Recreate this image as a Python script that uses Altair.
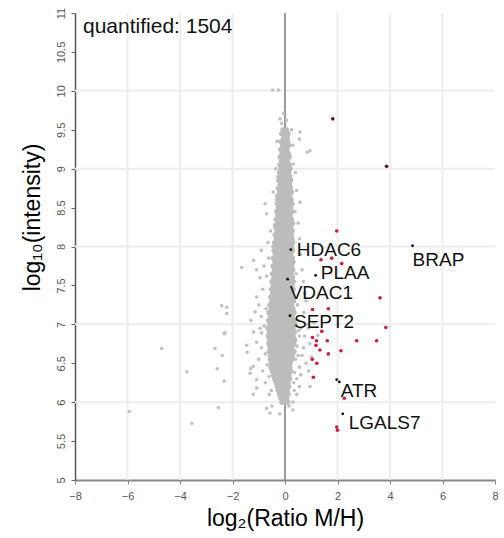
import altair as alt
import pandas as pd

# ---------------- data ----------------
# dense grey core, one row per intensity level: (log10 intensity, [log2 ratios])
core_rows = [
    (9.50, [-0.08, 0.06]),
    (9.45, [-0.13, 0.01, 0.12]),
    (9.40, [-0.05, 0.09]),
    (9.35, [-0.15, -0.02, 0.11]),
    (9.30, [-0.09, 0.04, 0.15]),
    (9.25, [-0.17, -0.04, 0.08]),
    (9.20, [-0.12, 0.01, 0.13]),
    (9.15, [-0.19, -0.07, 0.05, 0.16]),
    (9.10, [-0.14, -0.02, 0.10]),
    (9.05, [-0.20, -0.08, 0.04, 0.17]),
    (9.00, [-0.16, -0.03, 0.09, 0.20]),
    (8.95, [-0.22, -0.10, 0.02, 0.14]),
    (8.90, [-0.17, -0.05, 0.07, 0.19]),
    (8.85, [-0.24, -0.12, 0.00, 0.12, 0.22]),
    (8.80, [-0.19, -0.07, 0.05, 0.17]),
    (8.75, [-0.26, -0.14, -0.02, 0.10, 0.21]),
    (8.70, [-0.21, -0.09, 0.03, 0.15, 0.25]),
    (8.65, [-0.28, -0.16, -0.04, 0.08, 0.19]),
    (8.60, [-0.23, -0.11, 0.01, 0.13, 0.24]),
    (8.55, [-0.30, -0.18, -0.06, 0.06, 0.18, 0.27]),
    (8.50, [-0.25, -0.13, -0.01, 0.11, 0.22]),
    (8.45, [-0.32, -0.20, -0.08, 0.04, 0.16, 0.26]),
    (8.40, [-0.27, -0.15, -0.03, 0.09, 0.20]),
    (8.35, [-0.34, -0.22, -0.10, 0.02, 0.14, 0.25]),
    (8.30, [-0.29, -0.17, -0.05, 0.07, 0.19, 0.29]),
    (8.25, [-0.36, -0.24, -0.12, 0.00, 0.12, 0.23]),
    (8.20, [-0.31, -0.19, -0.07, 0.05, 0.17, 0.28]),
    (8.15, [-0.38, -0.26, -0.14, -0.02, 0.10, 0.22]),
    (8.10, [-0.33, -0.21, -0.09, 0.03, 0.15, 0.27]),
    (8.05, [-0.40, -0.28, -0.16, -0.04, 0.08, 0.20, 0.30]),
    (8.00, [-0.35, -0.23, -0.11, 0.01, 0.13, 0.25]),
    (7.95, [-0.42, -0.30, -0.18, -0.06, 0.06, 0.18, 0.29]),
    (7.90, [-0.37, -0.25, -0.13, -0.01, 0.11, 0.23]),
    (7.85, [-0.44, -0.32, -0.20, -0.08, 0.04, 0.16, 0.28]),
    (7.80, [-0.39, -0.27, -0.15, -0.03, 0.09, 0.21, 0.31]),
    (7.75, [-0.46, -0.34, -0.22, -0.10, 0.02, 0.14, 0.26]),
    (7.70, [-0.41, -0.29, -0.17, -0.05, 0.07, 0.19, 0.30]),
    (7.65, [-0.48, -0.36, -0.24, -0.12, 0.00, 0.12, 0.24]),
    (7.60, [-0.43, -0.31, -0.19, -0.07, 0.05, 0.17, 0.29]),
    (7.55, [-0.50, -0.38, -0.26, -0.14, -0.02, 0.10, 0.22, 0.32]),
    (7.50, [-0.45, -0.33, -0.21, -0.09, 0.03, 0.15, 0.27]),
    (7.45, [-0.52, -0.40, -0.28, -0.16, -0.04, 0.08, 0.20, 0.31]),
    (7.40, [-0.47, -0.35, -0.23, -0.11, 0.01, 0.13, 0.25]),
    (7.35, [-0.55, -0.43, -0.31, -0.19, -0.07, 0.05, 0.17, 0.29]),
    (7.30, [-0.50, -0.38, -0.26, -0.14, -0.02, 0.10, 0.22, 0.33]),
    (7.25, [-0.58, -0.46, -0.34, -0.22, -0.10, 0.02, 0.14, 0.26]),
    (7.20, [-0.53, -0.41, -0.29, -0.17, -0.05, 0.07, 0.19, 0.31]),
    (7.15, [-0.61, -0.49, -0.37, -0.25, -0.13, -0.01, 0.11, 0.23, 0.35]),
    (7.10, [-0.56, -0.44, -0.32, -0.20, -0.08, 0.04, 0.16, 0.28]),
    (7.05, [-0.63, -0.51, -0.39, -0.27, -0.15, -0.03, 0.09, 0.21, 0.33]),
    (7.00, [-0.58, -0.46, -0.34, -0.22, -0.10, 0.02, 0.14, 0.26, 0.38]),
    (6.95, [-0.65, -0.53, -0.41, -0.29, -0.17, -0.05, 0.07, 0.19, 0.31]),
    (6.90, [-0.60, -0.48, -0.36, -0.24, -0.12, 0.00, 0.12, 0.24, 0.36]),
    (6.85, [-0.64, -0.52, -0.40, -0.28, -0.16, -0.04, 0.08, 0.20, 0.32]),
    (6.80, [-0.59, -0.47, -0.35, -0.23, -0.11, 0.01, 0.13, 0.25, 0.37]),
    (6.75, [-0.62, -0.50, -0.38, -0.26, -0.14, -0.02, 0.10, 0.22, 0.34]),
    (6.70, [-0.57, -0.45, -0.33, -0.21, -0.09, 0.03, 0.15, 0.27]),
    (6.65, [-0.60, -0.48, -0.36, -0.24, -0.12, 0.00, 0.12, 0.24, 0.35]),
    (6.60, [-0.55, -0.43, -0.31, -0.19, -0.07, 0.05, 0.17, 0.29]),
    (6.55, [-0.57, -0.45, -0.33, -0.21, -0.09, 0.03, 0.15, 0.26]),
    (6.50, [-0.52, -0.40, -0.28, -0.16, -0.04, 0.08, 0.20]),
    (6.45, [-0.54, -0.42, -0.30, -0.18, -0.06, 0.06, 0.18]),
    (6.40, [-0.48, -0.36, -0.24, -0.12, 0.00, 0.12, 0.22]),
    (6.35, [-0.44, -0.32, -0.20, -0.08, 0.04, 0.16]),
    (6.30, [-0.40, -0.28, -0.16, -0.04, 0.08, 0.18]),
    (6.25, [-0.35, -0.23, -0.11, 0.01, 0.12]),
    (6.20, [-0.30, -0.18, -0.06, 0.06, 0.15]),
    (6.15, [-0.26, -0.14, -0.02, 0.09]),
    (6.10, [-0.21, -0.09, 0.03, 0.12]),
    (6.05, [-0.16, -0.04, 0.07]),
    (6.00, [-0.12, 0.00, 0.10]),
]

# scattered grey proteins around the core
halo_x = [-0.47, -0.25, -0.06, -0.19, 0.05, -0.13, -0.06, 0.25, 0.57, 0.55,
          0.95, 0.85, 0.32, 0.19, -0.13, -0.30, 0.30, 0.40, -0.35, 0.44,
          0.57, -0.76, -0.70, -0.45, 0.38, 0.50, -0.55, 0.55, -0.65, -0.90,
          0.60, -1.20, -0.80, 0.65, -1.65, -1.08, -0.95, 0.70, -0.85, -1.08,
          0.75, -1.00, 0.80, -2.22, -2.41, -1.14, -0.90, 0.72, -1.30, 0.85,
          -0.95, -2.32, -1.20, 0.75, -1.08, -1.46, -1.44, -0.90, 0.70, -1.00,
          0.65, -1.31, -1.33, -0.85, 0.55, -1.08, -1.21, -0.75, 0.45, -0.60,
          0.35, -0.50, 0.30, -0.20, -0.70, -2.22, -2.29, -0.89, -1.21, -1.08,
          -0.57, 0.50, 0.60, 0.90, 0.55, 0.95, 0.50, 0.80, 0.90, 0.60,
          0.55, 0.45, 0.30, 0.15, 0.95, -0.70, -0.62, 0.42, -0.72, 0.48,
          -0.80, 0.52, -0.75, 0.45, -0.68, 0.40, -0.60, 0.36, -0.52, 0.33,
          -0.46, -0.40, 0.28, -0.33, 0.24, 0.20, -0.28, 1.10, 1.25, 1.00]
halo_y = [10.01, 10.01, 9.71, 9.64, 9.62, 9.58, 9.49, 9.50, 9.47, 9.38,
          9.23, 9.21, 9.06, 9.17, 9.25, 9.35, 9.30, 8.95, 9.00, 8.72,
          8.57, 8.55, 8.42, 8.70, 8.45, 8.30, 8.20, 8.10, 8.05, 7.95,
          7.90, 7.82, 7.75, 7.70, 7.73, 7.70, 7.60, 7.55, 7.45, 7.35,
          7.40, 7.25, 7.30, 7.22, 7.24, 7.16, 7.10, 7.15, 7.05, 7.00,
          6.95, 6.88, 6.90, 6.85, 6.77, 6.73, 6.64, 6.70, 6.70, 6.55,
          6.60, 6.43, 6.37, 6.40, 6.45, 6.18, 6.10, 6.25, 6.30, 6.10,
          6.15, 5.95, 5.90, 5.85, 5.92, 7.14, 6.89, 6.89, 6.46, 6.29,
          5.86, 7.05, 6.95, 6.95, 6.85, 6.75, 6.60, 6.50, 6.40, 6.35,
          6.20, 6.10, 6.00, 5.95, 6.20, 7.62, 7.85, 7.65, 7.20, 7.25,
          6.98, 6.92, 6.62, 6.72, 6.48, 6.55, 6.33, 6.38, 6.15, 6.25,
          8.00, 8.28, 8.15, 8.60, 8.52, 8.80, 8.90, 7.02, 6.86, 6.58]

# far outliers on the left
out_x = [-4.70, -3.74, -3.55, -2.67, -2.39, -2.58, -2.32, -2.54, -5.93]
out_y = [6.69, 6.39, 5.73, 6.69, 6.60, 6.43, 6.27, 5.93, 5.88]

# significantly enriched proteins (red)
red_x = [1.97, 1.37, 1.78, 2.16, 3.62, 1.05, 1.65, 3.84, 1.40, 1.05, 1.20, 1.61,
         2.73, 3.49, 1.18, 1.33, 1.65, 2.13, 1.04, 1.21, 1.08, 2.26, 1.97, 2.00]
red_y = [8.20, 7.83, 7.85, 7.78, 7.34, 7.19, 7.20, 6.96, 6.91, 6.83, 6.79, 6.79,
         6.79, 6.79, 6.73, 6.67, 6.62, 6.66, 6.55, 6.50, 6.32, 6.05, 5.68, 5.64]

# dark red high-intensity hits
dark_x = [1.82, 3.87]
dark_y = [9.64, 9.03]

# named proteins (black)
label_names = ["HDAC6", "PLAA", "VDAC1", "SEPT2", "BRAP", "ATR", "", "LGALS7"]
label_x = [0.22, 1.17, 0.10, 0.19, 4.86, 1.97, 2.07, 2.20]
label_y = [7.96, 7.63, 7.58, 7.11, 8.01, 6.29, 6.26, 5.85]

x_ticks = [-8, -6, -4, -2, 0, 2, 4, 6, 8]
y_ticks = [5, 5.5, 6, 6.5, 7, 7.5, 8, 8.5, 9, 9.5, 10, 10.5, 11]
x_grid = [-6, -4, -2, 2, 4, 6]
y_grid = [6, 7, 8, 9, 10]
annotation = "quantified: 1504"

# ---------------- tables ----------------
gx, gy = [], []
for yv, xs_ in core_rows:
    for xv in xs_:
        gx.append(xv)
        gy.append(yv)
core_df = pd.DataFrame({"x": gx, "y": gy})
halo_df = pd.DataFrame({"x": halo_x + out_x, "y": halo_y + out_y})
red_df = pd.DataFrame({"x": red_x, "y": red_y})
dark_df = pd.DataFrame({"x": dark_x, "y": dark_y})
lab_df = pd.DataFrame({"name": label_names, "x": label_x, "y": label_y})
xg_df = pd.DataFrame({"x": x_grid})
yg_df = pd.DataFrame({"y": y_grid})
zero_df = pd.DataFrame({"x": [0]})

FONT = "Liberation Sans"
xs = alt.Scale(domain=[-8, 8], nice=False, zero=False)
ys = alt.Scale(domain=[5, 11], nice=False, zero=False)

x_axis = alt.Axis(values=x_ticks, grid=False, title="log₂(Ratio M/H)",
                  titleFont=FONT, titleFontSize=23, titleFontWeight="normal",
                  titleColor="black", titleX=210, titleY=38, titleBaseline="middle",
                  titleAlign="center",
                  labelFont=FONT, labelFontSize=11, labelColor="#555",
                  labelPadding=6, tickSize=4, tickColor="#888", tickWidth=1,
                  domainColor="#888", domainWidth=2, labelFlush=False)
y_axis = alt.Axis(values=y_ticks, format="~g", grid=False, title="log₁₀(intensity)",
                  titleFont=FONT, titleFontSize=23, titleFontWeight="normal",
                  titleColor="black", titleX=-43, titleY=204, titleAngle=270,
                  titleAlign="center", titleBaseline="middle",
                  labelFont=FONT, labelFontSize=11, labelColor="#555",
                  labelAngle=270, labelAlign="center", labelBaseline="middle",
                  labelPadding=10, tickSize=4, tickColor="#666", tickWidth=1,
                  domainColor="#555", domainWidth=1.5, labelFlush=False)

X = alt.X("x:Q", scale=xs, axis=x_axis)
Y = alt.Y("y:Q", scale=ys, axis=y_axis)

gridx = alt.Chart(xg_df).mark_rule(color="#ededed", strokeWidth=2).encode(x=X)
gridy = alt.Chart(yg_df).mark_rule(color="#ededed", strokeWidth=2).encode(y=Y)
zero = alt.Chart(zero_df).mark_rule(color="#9c9c9c", strokeWidth=2).encode(x=X)

core = alt.Chart(core_df).mark_circle(size=26, color="#bcbcbc", opacity=1).encode(x=X, y=Y)
halo = alt.Chart(halo_df).mark_circle(size=13, color="#c2c2c2", opacity=1).encode(x=X, y=Y)
red = alt.Chart(red_df).mark_circle(size=13, color="#d3173d", opacity=1).encode(x=X, y=Y)
dark = alt.Chart(dark_df).mark_circle(size=13, color="#5c1222", opacity=1).encode(x=X, y=Y)
black = alt.Chart(lab_df).mark_circle(size=8, color="#111", opacity=1).encode(x=X, y=Y)

# label offsets (style, kept apart from the data)
offsets = {"HDAC6": (6, 6), "PLAA": (5, 4), "VDAC1": (2, 20), "SEPT2": (4, 12),
           "BRAP": (0, 20), "ATR": (4, 17), "LGALS7": (6, 15)}
texts = []
for name, (dx, dy) in offsets.items():
    texts.append(
        alt.Chart(lab_df).transform_filter(alt.datum.name == name).mark_text(
            font=FONT, fontSize=19, color="#111", align="left",
            baseline="alphabetic", dx=dx, dy=dy).encode(x=X, y=Y, text="name:N"))

note = alt.Chart(pd.DataFrame({"t": [annotation]})).mark_text(
    font=FONT, fontSize=21, color="#111", align="left", baseline="alphabetic").encode(
    x=alt.value(8), y=alt.value(20), text="t:N")

chart = alt.layer(gridx, gridy, zero, halo, core, red, dark, black, *texts, note).properties(
    width=420, height=467,
    padding={"left": 75, "top": 13, "right": 9, "bottom": 58},
    autosize="none",
    background="white",
).configure_view(stroke=None)

chart.save("out.html", embed_options={"renderer": "svg", "actions": False})
